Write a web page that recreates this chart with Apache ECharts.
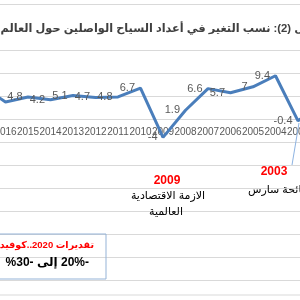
<!DOCTYPE html>
<html>
<head>
<meta charset="utf-8">
<script src="https://cdn.jsdelivr.net/npm/echarts@6/dist/echarts.min.js"></script>
<style>
html,body{margin:0;padding:0;background:#fff;}
#c{width:300px;height:300px;direction:rtl;}
</style>
</head>
<body>
<div id="c"></div>
<script>
// Years (category axis, drawn right-to-left)
const years = ['2002','2003','2004','2005','2006','2007','2008','2009','2010','2011','2012','2013','2014','2015','2016','2017','2018','2019'];
// % change in international tourist arrivals
const growth = [3.0,-0.4,9.4,7,5.7,6.6,1.9,-4,6.7,4.8,4.7,5.1,4.2,4.8,3.7,7,5.6,3.8];
const yTicks = {min:-40, max:25, step:5};

const titleText = 'شكل (2): نسب التغير في أعداد السياح الواصلين حول العالم';
const note2009 = ['2009','الازمة الاقتصادية','العالمية'];
const note2003 = ['2003','جائحة سارس'];
const noteCovid = ['تقديرات 2020..كوفيد-19','-20% إلى -30%'];

const ff = '"Liberation Sans","DejaVu Sans",sans-serif';
const LRM = '\u200E';
const gridTop = 4, gridH = 299;
const zeroFromBottom = gridH * (0 - yTicks.min) / (yTicks.max - yTicks.min); // px from grid bottom to value 0
const chart = echarts.init(document.getElementById('c'));
chart.setOption({
  animation:false,
  backgroundColor:'#fff',
  grid:{left:-73.25, width:405, top:gridTop, height:gridH, containLabel:false, outerBoundsMode:'none'},
  xAxis:{
    type:'category', data:years, inverse:true, position:'bottom', offset:-zeroFromBottom,
    axisLine:{onZero:false, lineStyle:{color:'#d9d9d9', width:1}},
    axisTick:{show:false},
    axisLabel:{interval:0, color:'#595959', fontSize:10, fontFamily:ff, margin:8, hideOverlap:false}
  },
  yAxis:{
    type:'value', min:yTicks.min, max:yTicks.max, interval:yTicks.step,
    axisLabel:{show:false}, axisLine:{show:false}, axisTick:{show:false},
    splitLine:{lineStyle:{color:'#d9d9d9', width:1}}
  },
  series:[{
    type:'line', data:growth, showSymbol:true, symbol:'circle', symbolSize:1,
    itemStyle:{color:'#4a7ebb'},
    lineStyle:{color:'#4a7ebb', width:3},
    label:{show:true, position:'left', distance:5, color:'#595959', fontSize:11, fontFamily:ff,
      formatter:function(p){return LRM + p.value;}},
    labelLayout:{hideOverlap:false},
    z:3
  }],
  graphic:[
    {type:'line', shape:{x1:0,y1:295,x2:300,y2:295}, style:{stroke:'#d9d9d9', lineWidth:1}},
    {type:'rect', shape:{x:0,y:17,width:300,height:24}, style:{fill:'#fff'}, z:10},
    {type:'text', x:322, y:29, z:11, style:{text:titleText, align:'right', verticalAlign:'middle', font:'bold 11.3px '+ff, fill:'#404040'}},
    {type:'text', x:167, y:181, z:11, style:{text:note2009[0], align:'center', verticalAlign:'middle', font:'bold 12px '+ff, fill:'#ff0000'}},
    {type:'text', x:168, y:196, z:11, style:{text:note2009[1], align:'center', verticalAlign:'middle', font:'11px '+ff, fill:'#000'}},
    {type:'text', x:166, y:212, z:11, style:{text:note2009[2], align:'center', verticalAlign:'middle', font:'11px '+ff, fill:'#000'}},
    {type:'line', z:11, shape:{x1:292,y1:165,x2:299,y2:123}, style:{stroke:'#8db3e2', lineWidth:1}},
    {type:'text', x:274, y:172, z:11, style:{text:note2003[0], align:'center', verticalAlign:'middle', font:'bold 12px '+ff, fill:'#ff0000'}},
    {type:'text', x:248, y:190, z:11, style:{text:note2003[1], align:'left', verticalAlign:'middle', font:'11px '+ff, fill:'#000'}},
    {type:'rect', z:11, shape:{x:-10,y:234,width:116,height:45}, style:{fill:'none', stroke:'#95b3d7', lineWidth:1}},
    {type:'text', x:94, y:245, z:11, style:{text:noteCovid[0], align:'right', verticalAlign:'middle', font:'bold 9.5px '+ff, fill:'#ff0000'}},
    {type:'text', x:89, y:263, z:11, style:{text:noteCovid[1], align:'right', verticalAlign:'middle', font:'bold 12px '+ff, fill:'#000'}}
  ]
});
</script>
</body>
</html>
